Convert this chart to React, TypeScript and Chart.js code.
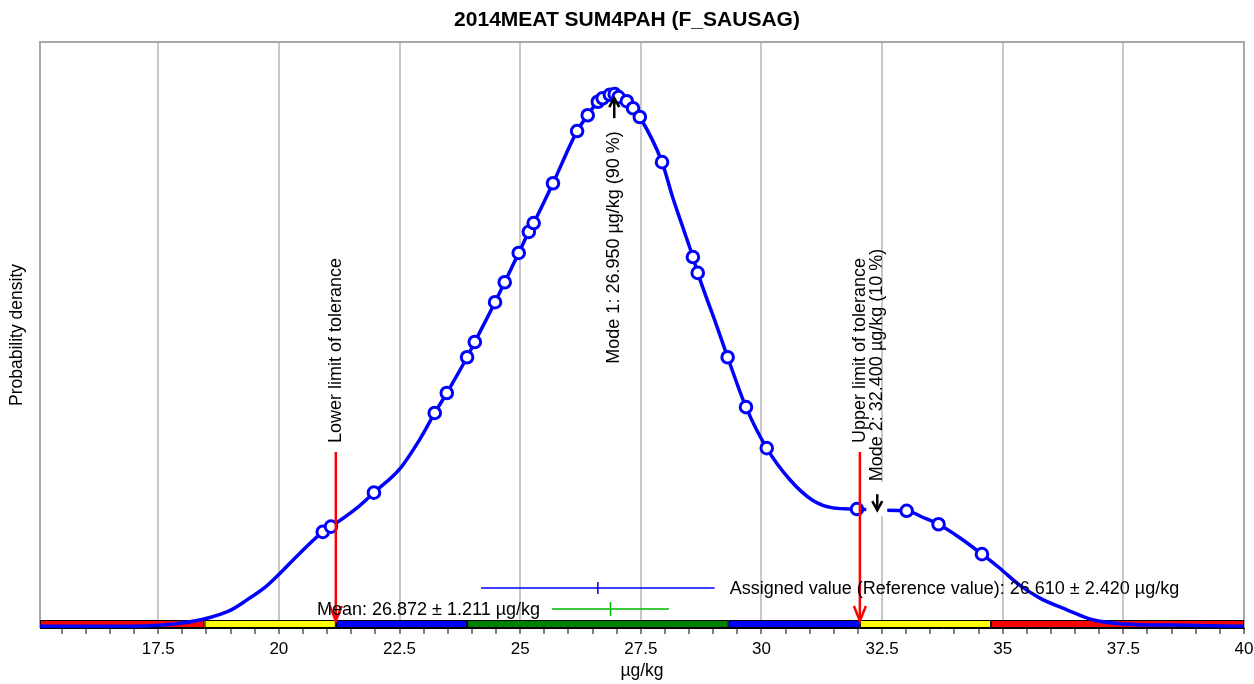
import React, { useEffect, useRef } from 'react';
import { Chart, registerables } from 'chart.js';

Chart.register(...registerables);

const FONT = '"Liberation Sans", Arial, Helvetica, sans-serif';

const TITLE = '2014MEAT SUM4PAH (F_SAUSAG)';
const X_LABEL = 'µg/kg';
const Y_LABEL = 'Probability density';
const UNIT = 'µg/kg';

// Kernel density curve (x in µg/kg, relative density)
const curveX = [
  15.05, 16.29, 17.33, 17.95, 18.57, 18.99, 19.34, 19.75, 20.02, 20.44,
  20.91, 21.08, 21.62, 21.97, 22.51, 22.92, 23.23, 23.48, 23.9, 24.06,
  24.48, 24.68, 24.97, 25.18, 25.28, 25.68, 26.18, 26.4, 26.61, 26.71,
  26.86, 26.96, 27.04, 27.21, 27.34, 27.48, 27.94, 28.16, 28.37, 28.58,
  28.68, 29.08, 29.3, 29.68, 30.11, 30.59, 31.06, 31.48, 31.98, 32.45,
  33.01, 33.34, 33.67, 34.11, 34.57, 34.94, 35.35, 35.77, 36.33, 36.86,
  37.49, 38.52, 40.0,
];
const curveY = [
  0.003, 0.003, 0.004, 0.008, 0.018, 0.03, 0.048, 0.072, 0.093, 0.128,
  0.164, 0.173, 0.205, 0.231, 0.272, 0.322, 0.367, 0.401, 0.462, 0.488,
  0.556, 0.59, 0.64, 0.676, 0.691, 0.759, 0.848, 0.875, 0.898, 0.904,
  0.91, 0.911, 0.906, 0.899, 0.887, 0.872, 0.795, 0.735, 0.684, 0.633,
  0.606, 0.514, 0.462, 0.377, 0.307, 0.253, 0.218, 0.205, 0.203, 0.201,
  0.2, 0.189, 0.177, 0.154, 0.126, 0.102, 0.073, 0.051, 0.031, 0.014,
  0.007, 0.005, 0.003,
];

// Participant results (circles)
const resultX = [
  20.91, 21.08, 21.97, 23.23, 23.48, 23.9, 24.06, 24.48, 24.68, 24.97,
  25.18, 25.28, 25.68, 26.18, 26.4, 26.61, 26.71, 26.86, 26.96, 27.04,
  27.21, 27.34, 27.48, 27.94, 28.58, 28.68, 29.3, 29.68, 30.11, 31.98,
  33.01, 33.67, 34.57,
];
const resultY = [
  0.164, 0.173, 0.231, 0.367, 0.401, 0.462, 0.488, 0.556, 0.59, 0.64,
  0.676, 0.691, 0.759, 0.848, 0.875, 0.898, 0.904, 0.91, 0.911, 0.906,
  0.899, 0.887, 0.872, 0.795, 0.633, 0.606, 0.462, 0.377, 0.307, 0.203,
  0.2, 0.177, 0.126,
];

// z-score zones along the axis
const zoneEdges = [15.05, 18.46, 21.18, 23.9, 29.32, 32.04, 34.76, 40];
const zoneColors = ['#ff0000', '#ffff00', '#0000ff', '#008000', '#0000ff', '#ffff00', '#ff0000'];

const toleranceLimits = [21.18, 32.04];
const toleranceLabels = ['Lower limit of tolerance', 'Upper limit of tolerance'];

const assignedValue = 26.61;
const assignedUnc = 2.42;
const meanValue = 26.872;
const meanUnc = 1.211;

const modeValues = [26.95, 32.4];
const modeDensity = [0.911, 0.201];
const modeShare = [90, 10];

const X_MIN = 15.05;
const X_MAX = 40;
const X_MINOR_STEP = 0.5;
const X_MAJOR_STEP = 2.5;

const isMajor = (v: number) => Math.abs(v / X_MAJOR_STEP - Math.round(v / X_MAJOR_STEP)) < 1e-6;

function drawArrow(ctx: CanvasRenderingContext2D, x: number, y0: number, y1: number, color: string, head: number, headLen: number, lw: number) {
  // y1 is the tip
  const dir = y1 > y0 ? 1 : -1;
  ctx.save();
  ctx.strokeStyle = color;
  ctx.lineWidth = lw;
  ctx.lineCap = 'butt';
  ctx.beginPath();
  ctx.moveTo(x, y0);
  ctx.lineTo(x, y1);
  ctx.stroke();
  ctx.beginPath();
  ctx.moveTo(x - head, y1 - dir * headLen);
  ctx.lineTo(x, y1);
  ctx.lineTo(x + head, y1 - dir * headLen);
  ctx.stroke();
  ctx.restore();
}

function vText(ctx: CanvasRenderingContext2D, text: string, x: number, y: number, align: CanvasTextAlign) {
  ctx.save();
  ctx.translate(x, y);
  ctx.rotate(-Math.PI / 2);
  ctx.textAlign = align;
  ctx.textBaseline = 'middle';
  ctx.fillText(text, 0, 0);
  ctx.restore();
}

const decorPlugin = {
  id: 'decor',
  beforeDatasetsDraw(chart: any) {
    const { ctx, chartArea } = chart;
    const xs = chart.scales.x;
    const { left, right, top, bottom } = chartArea;
    ctx.save();
    // frame
    ctx.strokeStyle = '#a8a8a8';
    ctx.lineWidth = 2;
    ctx.beginPath();
    ctx.moveTo(left, bottom);
    ctx.lineTo(left, top);
    ctx.lineTo(right, top);
    ctx.lineTo(right, bottom);
    ctx.stroke();
    // zone band
    const bh = 7;
    for (let i = 0; i < zoneColors.length; i++) {
      const x0 = xs.getPixelForValue(zoneEdges[i]);
      const x1 = xs.getPixelForValue(zoneEdges[i + 1]);
      ctx.fillStyle = zoneColors[i];
      ctx.fillRect(x0, bottom - bh, x1 - x0, bh);
      ctx.strokeStyle = '#000';
      ctx.lineWidth = 1;
      ctx.strokeRect(x0 + 0.5, bottom - bh - 0.5, x1 - x0 - 1, bh);
    }
    ctx.restore();
  },
  afterDatasetsDraw(chart: any) {
    const { ctx, chartArea } = chart;
    const xs = chart.scales.x;
    const ys = chart.scales.y;
    const { bottom } = chartArea;
    ctx.save();
    ctx.font = `18px ${FONT}`;
    ctx.fillStyle = '#000';

    // tolerance limits
    toleranceLimits.forEach((v, i) => {
      const x = xs.getPixelForValue(v);
      drawArrow(ctx, x, bottom - 176, bottom - 7, '#ff0000', 6, 15, 2.5);
      ctx.fillStyle = '#000';
      vText(ctx, toleranceLabels[i], x + 0.5, bottom - 185, 'left');
    });

    // assigned value bar
    const ay = bottom - 40;
    const a0 = xs.getPixelForValue(assignedValue - assignedUnc);
    const a1 = xs.getPixelForValue(assignedValue + assignedUnc);
    const ac = xs.getPixelForValue(assignedValue);
    ctx.strokeStyle = '#0000ff';
    ctx.lineWidth = 1.5;
    ctx.beginPath();
    ctx.moveTo(a0, ay); ctx.lineTo(a1, ay);
    ctx.moveTo(ac, ay - 6); ctx.lineTo(ac, ay + 6);
    ctx.stroke();
    ctx.fillStyle = '#000';
    ctx.textAlign = 'left';
    ctx.textBaseline = 'middle';
    ctx.fillText(`Assigned value (Reference value): ${assignedValue.toFixed(3)} ± ${assignedUnc.toFixed(3)} ${UNIT}`, a1 + 15, ay + 1);

    // mean bar
    const my = bottom - 19;
    const m0 = xs.getPixelForValue(meanValue - meanUnc);
    const m1 = xs.getPixelForValue(meanValue + meanUnc);
    const mc = xs.getPixelForValue(meanValue);
    ctx.strokeStyle = '#00bb00';
    ctx.lineWidth = 1.5;
    ctx.beginPath();
    ctx.moveTo(m0, my); ctx.lineTo(m1, my);
    ctx.moveTo(mc, my - 7); ctx.lineTo(mc, my + 7);
    ctx.stroke();
    ctx.fillStyle = '#000';
    ctx.textAlign = 'right';
    ctx.fillText(`Mean: ${meanValue.toFixed(3)} ± ${meanUnc.toFixed(3)} ${UNIT}`, m0 - 12, my + 1);

    // modes
    modeValues.forEach((v, i) => {
      const x = xs.getPixelForValue(v);
      const py = ys.getPixelForValue(modeDensity[i]);
      const label = `Mode ${i + 1}: ${v.toFixed(3)} ${UNIT} (${modeShare[i]} %)`;
      ctx.fillStyle = '#000';
      if (i === 0) {
        const tip = py + 4;
        drawArrow(ctx, x, tip + 20, tip, '#000', 5, 9, 2.5);
        vText(ctx, label, x, tip + 33, 'right');
      } else {
        const tip = py;
        ctx.fillStyle = '#fff';
        ctx.fillRect(x - 11, tip - 28, 21, 34);
        ctx.fillStyle = '#000';
        drawArrow(ctx, x, tip - 16, tip, '#000', 5, 9, 2.5);
        vText(ctx, label, x, tip - 29, 'left');
      }
    });
    ctx.restore();
  },
  afterDraw(chart: any) {
    const { ctx } = chart;
    ctx.save();
    ctx.font = `bold 21px ${FONT}`;
    ctx.fillStyle = '#000';
    ctx.textAlign = 'center';
    ctx.textBaseline = 'middle';
    ctx.fillText(TITLE, chart.width / 2, 20);
    ctx.restore();
  },
};

export default function App() {
  const ref = useRef<HTMLCanvasElement | null>(null);

  useEffect(() => {
    if (!ref.current) return;
    const curve = curveX.map((x, i) => ({ x, y: curveY[i] }));
    const results = resultX.map((x, i) => ({ x, y: resultY[i] }));

    const chart = new Chart(ref.current, {
      type: 'scatter',
      data: {
        datasets: [
          {
            type: 'scatter',
            data: results,
            pointRadius: 5.8,
            pointHoverRadius: 5.8,
            pointBorderWidth: 3,
            pointBackgroundColor: '#ffffff',
            pointBorderColor: '#0000ff',
            order: 0,
          } as any,
          {
            type: 'line',
            data: curve,
            borderColor: '#0000ff',
            borderWidth: 3.5,
            pointRadius: 0,
            fill: false,
            cubicInterpolationMode: 'monotone',
            order: 1,
          } as any,
        ],
      },
      options: {
        responsive: false,
        animation: false,
        devicePixelRatio: 1,
        layout: { padding: { top: 42, right: 10, left: 0, bottom: 0 } },
        plugins: {
          legend: { display: false },
          tooltip: { enabled: false },
          title: { display: false },
        },
        events: [],
        scales: {
          x: {
            type: 'linear',
            position: 'bottom',
            min: X_MIN,
            max: X_MAX,
            afterBuildTicks: (s: any) => {
              const t: any[] = [];
              const start = Math.ceil(X_MIN / X_MINOR_STEP) * X_MINOR_STEP;
              for (let v = start; v <= X_MAX + 1e-9; v += X_MINOR_STEP) {
                t.push({ value: Math.round(v * 100) / 100 });
              }
              s.ticks = t;
            },
            afterFit: (s: any) => {
              s.height = 56;
              s.paddingLeft = 0;
              s.paddingRight = 0;
            },
            ticks: {
              autoSkip: false,
              maxRotation: 0,
              minRotation: 0,
              padding: 5,
              color: '#000',
              font: { family: FONT, size: 17 },
              callback: (v: any) => (isMajor(Number(v)) ? String(Math.round(Number(v) * 10) / 10) : ''),
            },
            grid: {
              color: (c: any) => (c.tick && isMajor(c.tick.value) ? '#c8c8c8' : 'rgba(0,0,0,0)'),
              lineWidth: 2,
              tickColor: '#555555',
              tickLength: 6,
              tickWidth: 1.5,
              drawOnChartArea: true,
            },
            border: { display: true, color: '#000', width: 1 },
            title: {
              display: true,
              text: X_LABEL,
              color: '#000',
              font: { family: FONT, size: 17.5 },
              padding: { top: 0, bottom: 2 },
            },
          },
          y: {
            type: 'linear',
            min: 0,
            max: 1,
            afterFit: (s: any) => {
              s.width = 40;
            },
            ticks: { display: false },
            grid: { display: false, drawTicks: false },
            border: { display: false },
            title: {
              display: true,
              text: Y_LABEL,
              color: '#000',
              font: { family: FONT, size: 17.5 },
              padding: { top: 7, bottom: 0 },
            },
          },
        },
      } as any,
      plugins: [decorPlugin],
    });
    return () => chart.destroy();
  }, []);

  return (
    <div style={{ position: 'fixed', left: 0, top: 0, width: 1254, height: 684, background: '#fff' }}>
      <canvas ref={ref} width={1254} height={684} style={{ display: 'block' }} />
    </div>
  );
}
